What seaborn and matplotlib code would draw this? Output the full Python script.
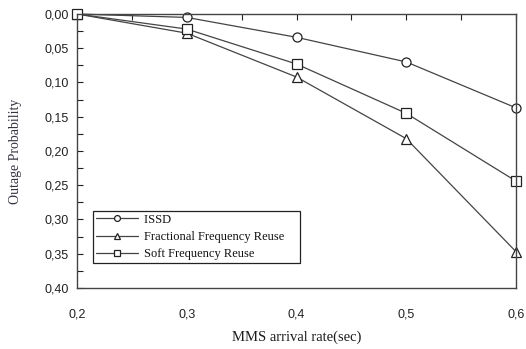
import numpy as np
import pandas as pd
import seaborn as sns
import matplotlib.pyplot as plt
from matplotlib.ticker import MultipleLocator

arrival_rate = [0.2, 0.3, 0.4, 0.5, 0.6]
issd = [0.0, 0.005, 0.034, 0.070, 0.137]
ffr = [0.0, 0.028, 0.092, 0.182, 0.347]
sfr = [0.0, 0.022, 0.073, 0.145, 0.244]
series_names = ["ISSD", "Fractional Frequency Reuse", "Soft Frequency Reuse"]
x_ticks = [0.2, 0.3, 0.4, 0.5, 0.6]
y_ticks = [0.0, 0.05, 0.10, 0.15, 0.20, 0.25, 0.30, 0.35, 0.40]


def main():
    sns.set_style("ticks")
    plt.rcParams['font.family'] = ['Liberation Sans', 'DejaVu Sans']

    df = pd.concat([
        pd.DataFrame({"rate": arrival_rate, "prob": vals, "scheme": name})
        for name, vals in zip(series_names, [issd, ffr, sfr])
    ])

    fig = plt.figure(figsize=(5.26, 3.49), dpi=100)
    ax = fig.add_axes([0.1464, 0.1748, 0.8346, 0.7851])

    sns.lineplot(data=df, x="rate", y="prob", hue="scheme", style="scheme",
                 palette=["#444444"] * 3, markers=["o", "^", "s"], dashes=False,
                 markersize=6.5, markerfacecolor="white", markeredgecolor="#222222",
                 markeredgewidth=0.9, linewidth=0.9, ax=ax)
    for ln in ax.lines:
        ln.set_clip_on(False)

    ax.set_xticks(x_ticks)
    ax.set_xticklabels([f"{v:.1f}".replace('.', ',') for v in x_ticks])
    ax.set_yticks(y_ticks)
    ax.set_yticklabels([f"{v:.2f}".replace('.', ',') for v in y_ticks])
    ax.xaxis.set_minor_locator(MultipleLocator(0.05))
    ax.yaxis.set_minor_locator(MultipleLocator(0.025))
    ax.set_xlim(0.2, 0.6)
    ax.set_ylim(0.40, 0.0)

    ax.tick_params(axis='x', which='both', top=True, bottom=False, direction='in',
                   length=4, width=0.8, labelsize=9, pad=15, colors='#222222')
    ax.tick_params(axis='y', which='both', left=True, direction='in',
                   length=4, width=0.8, labelsize=9, pad=6, colors='#222222')
    for s in ax.spines.values():
        s.set_color('#444444')
        s.set_linewidth(1.0)

    ax.set_xlabel("MMS arrival rate(sec)", family=['Liberation Serif'], fontsize=10.5,
                  labelpad=7, color='#1a1a1a')
    ax.set_ylabel("Outage Probability", family=['Liberation Serif'], fontsize=10,
                  labelpad=16, color='#333340')

    handles, labels = ax.get_legend_handles_labels()
    labels = [l + "    " for l in labels]
    leg = ax.legend(handles, labels, loc='lower left', bbox_to_anchor=(0.036, 0.09),
                    frameon=True, fancybox=False, edgecolor='#222222', framealpha=1,
                    prop={'family': 'Liberation Serif', 'size': 9},
                    handlelength=3.4, markerscale=0.65, labelspacing=0.42,
                    borderpad=0.25, handletextpad=0.45, borderaxespad=0)
    leg.get_frame().set_linewidth(0.9)
    for t in leg.get_texts():
        t.set_color('#111111')

    fig.savefig("out.png", dpi=100)


if __name__ == "__main__":
    main()
